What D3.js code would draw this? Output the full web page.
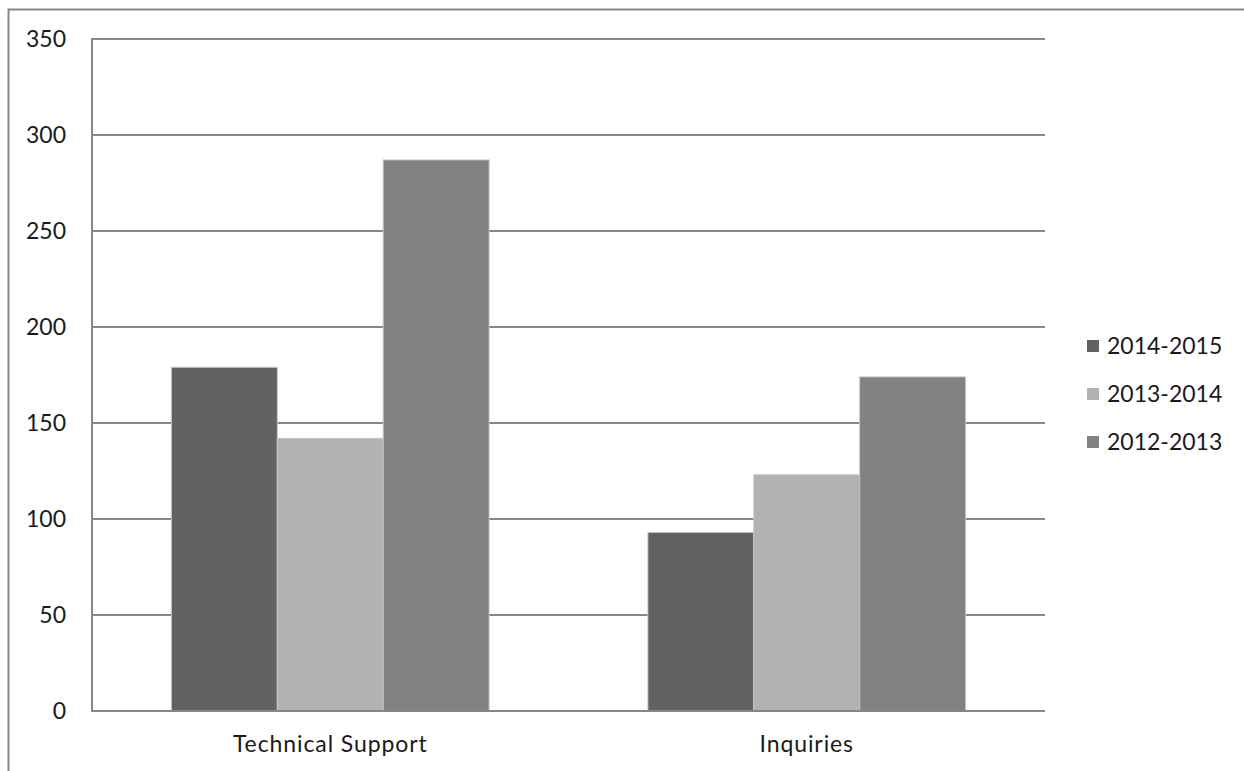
<!DOCTYPE html>
<html>
<head>
<meta charset="utf-8">
<script src="https://cdn.jsdelivr.net/npm/d3@7"></script>
<style>
  html, body { margin: 0; padding: 0; background: #fff; }
  svg { display: block; }
  text { font-family: Lato, "Open Sans", sans-serif; fill: #1a1a1a; }
</style>
</head>
<body>
<svg id="chart" width="1244" height="771"></svg>
<script>
// Ticket counts per category and fiscal year
const categories = ["Technical Support", "Inquiries"];
const seriesNames = ["2014-2015", "2013-2014", "2012-2013"];
const values20142015 = [179, 93];
const values20132014 = [142, 123];
const values20122013 = [287, 174];
const yTicks = [0, 50, 100, 150, 200, 250, 300, 350];
const seriesColors = ["#626262", "#b2b2b2", "#828282"];

const seriesValues = [values20142015, values20132014, values20122013];

const svg = d3.select("#chart");
const W = 1244, H = 771;
const plot = { left: 92, right: 1045, top: 39, bottom: 711 };

// outer chart frame (extends past the right and bottom edges)
svg.append("rect")
  .attr("x", 8.5).attr("y", 9.5)
  .attr("width", W + 20).attr("height", H + 20)
  .attr("fill", "none").attr("stroke", "#878787").attr("stroke-width", 2);

const x0 = d3.scaleBand().domain(categories).range([plot.left, plot.right]).paddingInner(0).paddingOuter(0);
const groupWidth = x0.bandwidth() * 2 / 3;
const x1 = d3.scaleBand().domain(seriesNames).range([0, groupWidth]).padding(0);
const y = d3.scaleLinear().domain([0, 350]).range([plot.bottom, plot.top]);

// horizontal gridlines
svg.append("g").selectAll("line").data(yTicks.filter(t => t > 0)).join("line")
  .attr("x1", plot.left).attr("x2", plot.right)
  .attr("y1", d => y(d)).attr("y2", d => y(d))
  .attr("stroke", "#868686").attr("stroke-width", 2);

// y axis labels
const yAxis = d3.axisLeft(y).tickValues(yTicks).tickSize(0).tickPadding(26);
const gy = svg.append("g").attr("transform", `translate(${plot.left},0)`).call(yAxis);
gy.select(".domain").remove();
gy.selectAll("text").style("font-size", "23px").attr("fill", "#1a1a1a");

// bars
const rows = categories.map((c, i) => ({ cat: c, vals: seriesNames.map((s, j) => ({ s, v: seriesValues[j][i], c: seriesColors[j] })) }));
const groups = svg.append("g").selectAll("g").data(rows).join("g")
  .attr("transform", d => `translate(${x0(d.cat) + (x0.bandwidth() - groupWidth) / 2},0)`);
groups.selectAll("rect").data(d => d.vals).join("rect")
  .attr("x", d => x1(d.s))
  .attr("y", d => y(d.v))
  .attr("width", x1.bandwidth())
  .attr("height", d => y(0) - y(d.v))
  .attr("fill", d => d.c)
  .attr("stroke", "#c4c4c4").attr("stroke-width", 1);

// axis lines
svg.append("line").attr("x1", plot.left).attr("x2", plot.left)
  .attr("y1", plot.top - 1).attr("y2", plot.bottom + 1)
  .attr("stroke", "#868686").attr("stroke-width", 2);
svg.append("line").attr("x1", plot.left).attr("x2", plot.right)
  .attr("y1", plot.bottom).attr("y2", plot.bottom)
  .attr("stroke", "#868686").attr("stroke-width", 2);

// category labels
const xAxis = d3.axisBottom(x0).tickSize(0).tickPadding(25);
const gx = svg.append("g").attr("transform", `translate(0,${plot.bottom})`).call(xAxis);
gx.select(".domain").remove();
gx.selectAll("text").style("font-size", "23px").style("letter-spacing", "0.9px").attr("fill", "#1a1a1a");

// legend
const legend = svg.append("g").attr("transform", "translate(1087,346)");
const li = legend.selectAll("g").data(seriesNames).join("g")
  .attr("transform", (d, i) => `translate(0,${i * 48})`);
li.append("rect").attr("x", 0).attr("y", -6).attr("width", 12).attr("height", 12)
  .attr("fill", (d, i) => seriesColors[i]);
li.append("text").attr("x", 20).attr("y", 0).attr("dy", "0.35em")
  .style("font-size", "23px").text(d => d);
</script>
</body>
</html>
